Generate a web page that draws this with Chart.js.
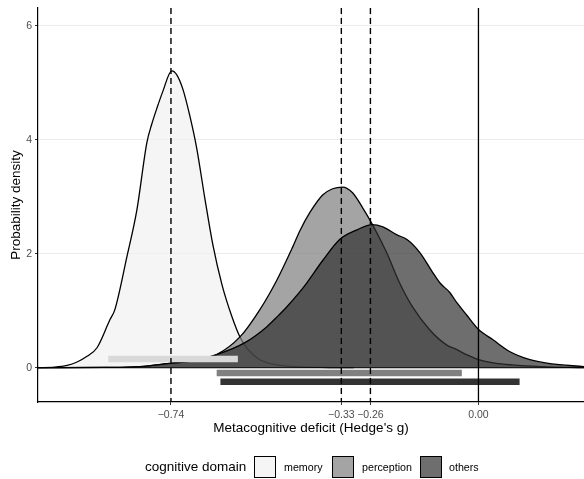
<!DOCTYPE html>
<html>
<head>
<meta charset="utf-8">
<script src="https://cdn.jsdelivr.net/npm/chart.js@4.4.1/dist/chart.umd.min.js"></script>
<style>
  html, body { margin: 0; padding: 0; background: #ffffff; }
  #wrap { position: relative; width: 584px; height: 479px; overflow: hidden; }
  #c { position: absolute; left: 0; top: 0; }
  .lg { position: absolute; font-family: 'Liberation Sans', Arial, Helvetica, sans-serif; color: #000; white-space: nowrap; }
  .lg-title { font-size: 13.5px; line-height: 16px; top: 459px; }
  .lg-label { font-size: 10.7px; line-height: 12px; top: 461px; }
  .lg-key { top: 456px; width: 20px; height: 20px; border: 1.2px solid #000; }
</style>
</head>
<body>
<div id="wrap">
  <canvas id="c" width="584" height="479"></canvas>
  <div id="legend"></div>
</div>
<script>
// ---------------- data ----------------
const categories = ['memory', 'perception', 'others'];
const legendTitle = 'cognitive domain';
const xAxisTitle = "Metacognitive deficit (Hedge's g)";
const yAxisTitle = 'Probability density';

const memoryX = [-1.06, -1.02, -0.99, -0.966, -0.942, -0.918, -0.887, -0.875, -0.846, -0.822, -0.798, -0.786, -0.774, -0.760, -0.738, -0.726, -0.711, -0.694, -0.678, -0.658, -0.639, -0.617, -0.593, -0.574, -0.555, -0.526, -0.485, -0.44, -0.38, -0.30];
const memoryY = [0.00, 0.01, 0.04, 0.10, 0.20, 0.35, 0.84, 1.02, 1.95, 2.77, 3.95, 4.28, 4.55, 4.84, 5.21, 5.14, 4.88, 4.40, 3.85, 2.95, 2.15, 1.45, 0.89, 0.54, 0.32, 0.14, 0.05, 0.02, 0.005, 0.00];

const perceptionX = [-1.06, -0.90, -0.815, -0.738, -0.687, -0.630, -0.574, -0.526, -0.485, -0.447, -0.430, -0.406, -0.375, -0.351, -0.327, -0.303, -0.279, -0.255, -0.221, -0.190, -0.159, -0.118, -0.077, -0.053, -0.029, 0.000, 0.040, 0.080, 0.150, 0.254];
const perceptionY = [0.00, 0.005, 0.02, 0.08, 0.12, 0.23, 0.54, 1.02, 1.54, 2.12, 2.40, 2.72, 3.03, 3.14, 3.17, 3.07, 2.81, 2.51, 2.02, 1.49, 1.07, 0.67, 0.40, 0.32, 0.23, 0.14, 0.08, 0.05, 0.02, 0.00];

const othersX = [-1.06, -0.90, -0.815, -0.738, -0.687, -0.630, -0.562, -0.509, -0.485, -0.461, -0.430, -0.413, -0.374, -0.334, -0.292, -0.256, -0.230, -0.196, -0.172, -0.141, -0.110, -0.093, -0.069, -0.052, -0.028, -0.001, 0.035, 0.076, 0.124, 0.172, 0.254];
const othersY = [0.00, 0.005, 0.02, 0.08, 0.12, 0.23, 0.44, 0.72, 0.89, 1.07, 1.33, 1.49, 1.89, 2.25, 2.42, 2.51, 2.47, 2.33, 2.25, 2.02, 1.67, 1.49, 1.32, 1.14, 0.92, 0.68, 0.49, 0.28, 0.14, 0.07, 0.02];

// 95% intervals (memory, perception, others)
const intervalLow  = [-0.891, -0.630, -0.621];
const intervalHigh = [-0.579, -0.040, 0.099];

// posterior means (dashed) and reference (solid)
const meanLines = [-0.74, -0.33, -0.26];
const zeroLine = 0.00;

const xTicks = [-0.74, -0.33, -0.26, 0.00];
const yTicks = [0, 2, 4, 6];

// ---------------- layout / style ----------------
const intervalRowY = [0.153, -0.093, -0.246];
const fillColors = ['rgba(241,241,241,0.7)', 'rgba(126,126,126,0.7)', 'rgba(48,48,48,0.7)'];
const intervalColors = ['#d9d9d9', '#808080', '#333333'];
const FONT = "'Liberation Sans', Arial, Helvetica, sans-serif";

function pts(xs, ys) { return xs.map((x, i) => ({ x: x, y: ys[i] })); }

const seriesX = [memoryX, perceptionX, othersX];
const seriesY = [memoryY, perceptionY, othersY];

const datasets = [];
categories.forEach((cat, i) => {
  datasets.push({
    label: cat,
    data: pts(seriesX[i], seriesY[i]),
    fill: 'origin',
    backgroundColor: fillColors[i],
    borderColor: '#000000',
    borderWidth: 1.3,
    pointRadius: 0,
    pointHoverRadius: 0,
    cubicInterpolationMode: 'monotone',
    order: 10 - i
  });
});
categories.forEach((cat, i) => {
  datasets.push({
    label: cat + ' interval',
    data: [{ x: intervalLow[i], y: intervalRowY[i] }, { x: intervalHigh[i], y: intervalRowY[i] }],
    fill: false,
    borderColor: intervalColors[i],
    borderWidth: 6.6,
    borderCapStyle: 'butt',
    pointRadius: 0,
    pointHoverRadius: 0,
    order: 3
  });
});

const refLinesPlugin = {
  id: 'refLines',
  afterDatasetsDraw(chart) {
    const { ctx, chartArea, scales } = chart;
    const xs = scales.x, ys = scales.y;
    ctx.save();
    const y0 = ys.getPixelForValue(0);
    ctx.strokeStyle = '#000';
    ctx.lineWidth = 1.1;
    ctx.beginPath();
    ctx.moveTo(chartArea.left, y0);
    ctx.lineTo(chartArea.right, y0);
    ctx.stroke();
    ctx.lineWidth = 1.4;
    ctx.setLineDash([6, 4]);
    meanLines.forEach(v => {
      const px = xs.getPixelForValue(v);
      ctx.beginPath();
      ctx.moveTo(px, chartArea.top);
      ctx.lineTo(px, chartArea.bottom);
      ctx.stroke();
    });
    ctx.setLineDash([]);
    ctx.lineWidth = 1.3;
    const pz = xs.getPixelForValue(zeroLine);
    ctx.beginPath();
    ctx.moveTo(pz, chartArea.top);
    ctx.lineTo(pz, chartArea.bottom);
    ctx.stroke();
    ctx.restore();
  }
};

function fmtX(v) {
  const s = Math.abs(v).toFixed(2);
  return (v < -1e-9 ? '\u2212' : '') + s;
}

new Chart(document.getElementById('c'), {
  type: 'line',
  data: { datasets: datasets },
  plugins: [refLinesPlugin],
  options: {
    responsive: false,
    animation: false,
    devicePixelRatio: 1,
    layout: { padding: { top: 8, left: 0, right: 0, bottom: 43 } },
    plugins: { legend: { display: false }, tooltip: { enabled: false } },
    events: [],
    scales: {
      x: {
        type: 'linear',
        min: -1.06,
        max: 0.254,
        afterBuildTicks(s) { s.ticks = xTicks.map(v => ({ value: v })); },
        afterFit(s) { s.height = 34; s.paddingLeft = 0; s.paddingRight = 0; },
        ticks: {
          autoSkip: false,
          maxRotation: 0,
          padding: 3.5,
          color: '#4d4d4d',
          font: { family: FONT, size: 10.5 },
          callback: (v) => fmtX(v)
        },
        grid: { color: '#ebebeb', lineWidth: 1, tickColor: '#333333', tickLength: 3, drawTicks: true },
        border: { display: true, color: '#000000', width: 1.2 },
        title: { display: true, text: xAxisTitle, color: '#000', font: { family: FONT, size: 13.5 }, padding: { top: 0, bottom: 0 } }
      },
      y: {
        type: 'linear',
        min: -0.602,
        max: 6.312,
        afterBuildTicks(s) { s.ticks = yTicks.map(v => ({ value: v })); },
        afterFit(s) { s.width = 38; s.paddingTop = 0; s.paddingBottom = 0; },
        ticks: {
          padding: 3,
          color: '#4d4d4d',
          font: { family: FONT, size: 10.5 },
          callback: (v) => String(v)
        },
        grid: { color: '#ebebeb', lineWidth: 1, tickColor: '#333333', tickLength: 3, drawTicks: true },
        border: { display: true, color: '#000000', width: 1.2 },
        title: { display: true, text: yAxisTitle, color: '#000', font: { family: FONT, size: 13.5 }, padding: { top: 8, bottom: 0 } }
      }
    }
  }
});

// ---------------- HTML legend ----------------
const legend = document.getElementById('legend');
const keyLeft = [254, 332, 419.5];
const labelLeft = [284, 362, 449];
const t = document.createElement('div');
t.className = 'lg lg-title';
t.style.left = '145px';
t.textContent = legendTitle;
legend.appendChild(t);
categories.forEach((cat, i) => {
  const k = document.createElement('div');
  k.className = 'lg lg-key';
  k.style.left = keyLeft[i] + 'px';
  k.style.background = fillColors[i];
  legend.appendChild(k);
  const l = document.createElement('div');
  l.className = 'lg lg-label';
  l.style.left = labelLeft[i] + 'px';
  l.textContent = cat;
  legend.appendChild(l);
});
</script>
</body>
</html>
